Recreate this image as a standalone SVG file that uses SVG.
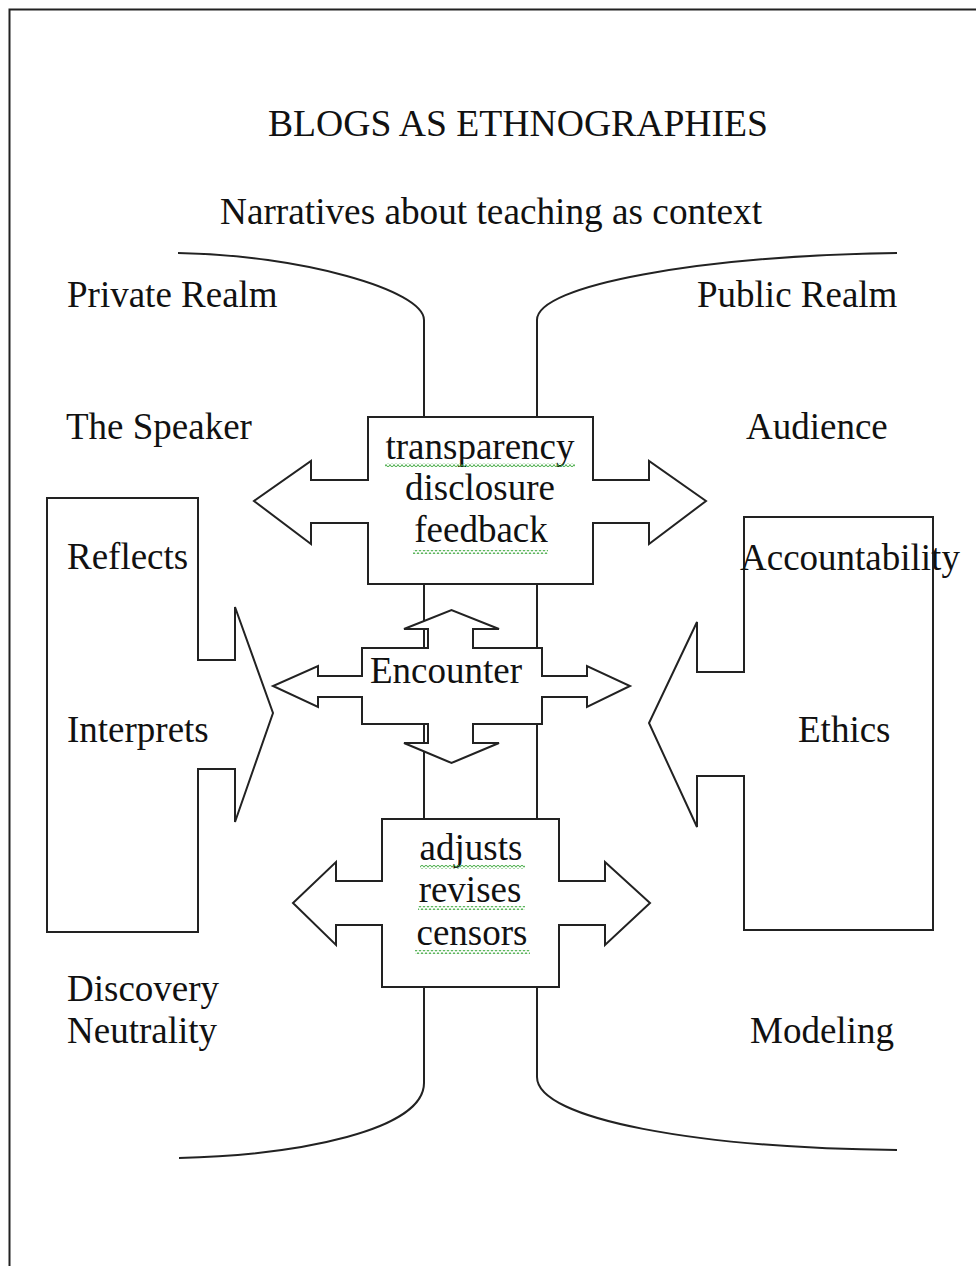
<svg xmlns="http://www.w3.org/2000/svg" width="976" height="1266" viewBox="0 0 976 1266">
<style>
  .ln { fill: none; stroke: #222; stroke-width: 2; }
  .sh { fill: #fff; stroke: #222; stroke-width: 2; stroke-linejoin: miter; }
  .t { font-family: "Liberation Serif", "Times New Roman", serif; font-size: 37px; fill: #111; }
  .c { text-anchor: middle; }
  .sq { fill: url(#squig); }
</style>
<defs>
  <pattern id="squig" patternUnits="userSpaceOnUse" width="4" height="4" x="0" y="0">
    <path d="M0 3.5 L2 0.5 L4 3.5" fill="none" stroke="#3da83d" stroke-width="1"/>
  </pattern>
</defs>
<rect width="976" height="1266" fill="#fff"/>
<g id="frame">
  <path class="ln" d="M9.5 1266 V9.5 H976"/>
</g>
<g id="title">
  <text class="t" x="268" y="136" textLength="500" lengthAdjust="spacingAndGlyphs">BLOGS AS ETHNOGRAPHIES</text>
  <text class="t" x="220" y="224" textLength="542" lengthAdjust="spacingAndGlyphs">Narratives about teaching as context</text>
</g>
<g id="connectors">
  <path class="ln" d="M178 253 C300 255 424 290 424 320 V1083 C424 1130 300 1155 179 1158"/>
  <path class="ln" d="M897 253 C700 256 537 285 537 320 V1077 C537 1120 700 1148 897 1150"/>
</g>
<g id="labels">
  <text class="t" x="67" y="307">Private Realm</text>
  <text class="t" x="697" y="307">Public Realm</text>
  <text class="t" x="66" y="439">The Speaker</text>
  <text class="t" x="746" y="439">Audience</text>
  <text class="t" x="67" y="1001">Discovery</text>
  <text class="t" x="67" y="1043">Neutrality</text>
  <text class="t" x="750" y="1043">Modeling</text>
</g>
<g id="speaker-callout">
  <polygon class="sh" points="47,498 198,498 198,660 235,660 235,607 273,713 235,822 235,769 198,769 198,932 47,932"/>
  <text class="t" x="67" y="569">Reflects</text>
  <text class="t" x="67" y="742">Interprets</text>
</g>
<g id="audience-callout">
  <polygon class="sh" points="744,517 933,517 933,930 744,930 744,776 697,776 697,827 649,723 697,622 697,672 744,672"/>
  <text class="t" x="740" y="570">Accountability</text>
  <text class="t" x="798" y="742">Ethics</text>
</g>
<g id="top-arrow">
  <polygon class="sh" points="368,417 593,417 593,480 649,480 649,461 706,501 649,544 649,523 593,523 593,584 368,584 368,523 311,523 311,544 254,501 311,461 311,480 368,480"/>
  <text class="t c" x="480" y="459">transparency</text>
  <text class="t c" x="480" y="500">disclosure</text>
  <text class="t c" x="481" y="542">feedback</text>
  <rect class="sq" x="385" y="463" width="190" height="4"/>
  <rect class="sq" x="413" y="550" width="135" height="4"/>
</g>
<g id="encounter">
  <polygon class="sh" points="362,648 428,648 428,629 404,629 451.5,610 499,629 473,629 473,648 542,648 542,676 587,676 587,666 630,686 587,707 587,697 542,697 542,724 473,724 473,743 499,743 451.5,763 404,743 428,743 428,724 362,724 362,697 318,697 318,707 273,686 318,666 318,676 362,676"/>
  <text class="t c" x="446" y="683">Encounter</text>
</g>
<g id="bottom-arrow">
  <polygon class="sh" points="382,819 559,819 559,881 605,881 605,862 650,903 605,945 605,925 559,925 559,987 382,987 382,925 336,925 336,945 293,903 336,862 336,881 382,881"/>
  <text class="t c" x="471" y="860">adjusts</text>
  <text class="t c" x="470" y="902">revises</text>
  <text class="t c" x="472" y="945">censors</text>
  <rect class="sq" x="420" y="865" width="105" height="4"/>
  <rect class="sq" x="418" y="906" width="107" height="4"/>
  <rect class="sq" x="415" y="950" width="115" height="4"/>
</g>
</svg>
